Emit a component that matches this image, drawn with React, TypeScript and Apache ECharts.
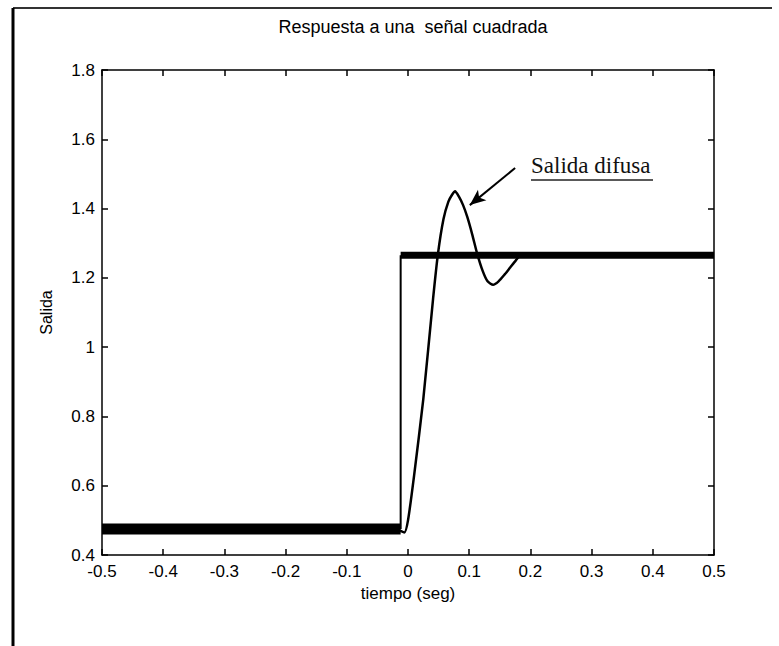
import React, { useEffect, useRef } from "react";
import * as echarts from "echarts";

// Reference square-wave step (time in s, output level)
const stepTimes = [-0.5, -0.012, 0.5];
const stepLevels = [0.475, 1.265];

// Fuzzy controller output
const fuzzyTimes = [
  -0.5, -0.02, -0.006, 0.0, 0.01, 0.025, 0.041, 0.049, 0.058, 0.066, 0.072,
  0.077, 0.083, 0.09, 0.097, 0.105, 0.113, 0.122, 0.13, 0.139, 0.148, 0.158,
  0.167, 0.176, 0.185, 0.5,
];
const fuzzyValues = [
  0.475, 0.475, 0.465, 0.5, 0.63, 0.85, 1.14, 1.27, 1.37, 1.42, 1.44, 1.45,
  1.435, 1.41, 1.375, 1.325, 1.27, 1.22, 1.19, 1.18, 1.19, 1.21, 1.23, 1.25,
  1.265, 1.265,
];

// Annotation arrow (data coordinates)
const arrowStart = [0.175, 1.517];
const arrowEnd = [0.101, 1.41];

const xTicks = { min: -0.5, max: 0.5, step: 0.1 };
const yTicks = { min: 0.4, max: 1.8, step: 0.2 };

const fmt = (v: number) => String(parseFloat(v.toFixed(1)));

export default function App() {
  const ref = useRef<HTMLDivElement>(null);
  useEffect(() => {
    if (!ref.current) return;
    const chart = echarts.init(ref.current, undefined, { renderer: "svg" });
    const font = "Arial, 'Liberation Sans', sans-serif";
    const axisCommon = {
      axisLine: { show: true, onZero: false, lineStyle: { color: "#000", width: 1.5 } },
      axisTick: { show: true, inside: true, length: 6, lineStyle: { color: "#000", width: 1.5 } },
      splitLine: { show: false },
    };
    const lowBand = [
      [stepTimes[0], stepLevels[0]],
      [stepTimes[1], stepLevels[0]],
    ];
    const edge = [
      [stepTimes[1], stepLevels[0]],
      [stepTimes[1], stepLevels[1]],
    ];
    const highBand = [
      [stepTimes[1], stepLevels[1]],
      [stepTimes[2], stepLevels[1]],
    ];
    const fuzzy = fuzzyTimes.map((t, i) => [t, fuzzyValues[i]]);
    chart.setOption({
      animation: false,
      backgroundColor: "#fff",
      title: {
        text: "Respuesta a una  señal cuadrada",
        left: 408,
        textAlign: "center",
        top: 13,
        textStyle: { fontFamily: font, fontSize: 18, fontWeight: "normal", color: "#000" },
      },
      grid: { left: 102, right: 65, top: 70, bottom: 91 },
      xAxis: [
        {
          ...axisCommon,
          type: "value",
          position: "bottom",
          min: xTicks.min,
          max: xTicks.max,
          interval: xTicks.step,
          name: "tiempo (seg)",
          nameLocation: "middle",
          nameGap: 30,
          nameTextStyle: { fontFamily: font, fontSize: 17, color: "#000" },
          axisLabel: { formatter: fmt, fontFamily: font, fontSize: 17, color: "#000", margin: 8 },
        },
        {
          ...axisCommon,
          type: "value",
          position: "top",
          min: xTicks.min,
          max: xTicks.max,
          interval: xTicks.step,
          axisLabel: { show: false },
        },
      ],
      yAxis: [
        {
          ...axisCommon,
          type: "value",
          position: "left",
          min: yTicks.min,
          max: yTicks.max,
          interval: yTicks.step,
          name: "Salida",
          nameLocation: "middle",
          nameGap: 48,
          nameRotate: 90,
          nameTextStyle: { fontFamily: font, fontSize: 16, color: "#000" },
          axisLabel: { formatter: fmt, fontFamily: font, fontSize: 17, color: "#000", margin: 7 },
        },
        {
          ...axisCommon,
          type: "value",
          position: "right",
          min: yTicks.min,
          max: yTicks.max,
          interval: yTicks.step,
          axisLabel: { show: false },
        },
      ],
      series: [
        {
          type: "line",
          name: "Referencia baja",
          data: lowBand,
          showSymbol: false,
          lineStyle: { color: "#000", width: 11 },
        },
        {
          type: "line",
          name: "Escalón",
          data: edge,
          showSymbol: false,
          lineStyle: { color: "#000", width: 2 },
        },
        {
          type: "line",
          name: "Referencia alta",
          data: highBand,
          showSymbol: false,
          lineStyle: { color: "#000", width: 7 },
        },
        {
          type: "line",
          name: "Salida difusa",
          data: fuzzy,
          showSymbol: false,
          smooth: 0.2,
          lineStyle: { color: "#000", width: 2.5 },
          markLine: {
            silent: true,
            symbol: ["none", "arrow"],
            symbolSize: [10, 16],
            label: { show: false },
            lineStyle: { color: "#000", width: 2, type: "solid" },
            data: [[{ coord: arrowStart }, { coord: arrowEnd }]],
          },
        },
      ],
      graphic: [
        {
          type: "line",
          shape: { x1: 13, y1: 8, x2: 772, y2: 8 },
          style: { stroke: "#333", lineWidth: 2 },
        },
        {
          type: "line",
          shape: { x1: 13, y1: 8, x2: 13, y2: 646 },
          style: { stroke: "#000", lineWidth: 3 },
        },
        {
          type: "text",
          left: 531,
          top: 154,
          style: {
            text: "Salida difusa",
            fontFamily: "'Liberation Serif', 'Times New Roman', serif",
            fontSize: 23,
            fill: "#111",
          },
        },
        {
          type: "line",
          shape: { x1: 531, y1: 180, x2: 653, y2: 180 },
          style: { stroke: "#222", lineWidth: 1.5 },
        },
      ],
    });
    return () => chart.dispose();
  }, []);
  return (
    <div
      ref={ref}
      style={{ position: "fixed", left: 0, top: 0, width: 779, height: 646, background: "#fff" }}
    />
  );
}
